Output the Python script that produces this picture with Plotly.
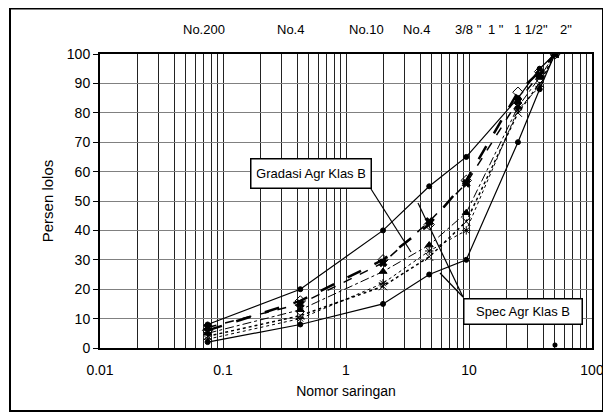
import math
import plotly.graph_objects as go

# ---- data ----
sieve_mm = [0.075, 0.425, 2.0, 4.75, 9.5, 25, 37.5, 50]
spec_upper = [8, 20, 40, 55, 65, 85, 95, 100]
spec_lower = [2, 8, 15, 25, 30, 70, 88, 100]
grad_1 = [6, 16, 30, 42, 57, 87, 94, 100]
grad_2 = [7, 15, 29, 43, 56, 84, 93, 100]
grad_3 = [5, 13, 26, 35, 46, 82, 92, 100]
grad_4 = [4, 11, 21, 31, 43, 80, 90, 100]
grad_5 = [3, 10, 22, 33, 40, 81, 89, 100]
stray_x = [50]
stray_y = [1]

top_labels = ["No.200", "No.4", "No.10", "No.4", "3/8 \"", "1 \"", "1 1/2\"", "2\""]
top_label_px = [204, 290, 366, 416, 468, 496, 531, 566]

y_ticks = list(range(0, 101, 10))
decades = [0.01, 0.1, 1, 10, 100]
decade_labels = ["0.01", "0.1", "1", "10", "100"]

# ---- geometry (page pixels; page body has an 8px margin) ----
W, H = 611, 414
OFF = 8
L, R, T, B = 100, 592, 54, 348

def px(xp):
    return (xp - L) / (R - L)

def py(yp):
    return (B - yp) / (B - T)

FONT = "Liberation Sans, Arial, sans-serif"

fig = go.Figure()

def add(y, dash, width, symbol, size):
    fig.add_trace(go.Scatter(
        x=sieve_mm, y=y, mode="lines+markers",
        line=dict(color="black", width=width, dash=dash),
        marker=dict(symbol=symbol, size=size, color="black",
                    line=dict(color="black", width=1)),
        showlegend=False, hoverinfo="skip"))

add(spec_upper, "solid", 1.2, "circle", 5)
add(spec_lower, "solid", 1.2, "circle", 5)
add(grad_1, "longdash", 2.5, "diamond-open", 8)
add(grad_2, "dash", 1.5, "x", 7)
add(grad_3, "dashdot", 1, "triangle-up", 7)
add(grad_4, "dot", 1.5, "x-thin", 8)
add(grad_5, "3px,3px", 1, "asterisk", 7)

fig.add_trace(go.Scatter(x=stray_x, y=stray_y, mode="markers",
                         marker=dict(symbol="circle", size=5, color="black"),
                         showlegend=False, hoverinfo="skip"))

# x tick values: every minor log position
tickvals = []
ticktext = []
for d in [0.01, 0.1, 1, 10]:
    for k in range(1, 10):
        v = round(d * k, 6)
        tickvals.append(v)
        ticktext.append(decade_labels[decades.index(d)] if k == 1 else "")
tickvals.append(100)
ticktext.append("100")

fig.update_xaxes(
    type="log", range=[-2, 2], tickvals=tickvals, ticktext=ticktext,
    showgrid=True, gridcolor="#222222", gridwidth=1,
    showline=True, linecolor="black", linewidth=2, mirror=True,
    ticks="", ticklabelstandoff=8,
    tickfont=dict(family=FONT, size=14, color="black"),
    title=dict(text="Nomor saringan", font=dict(family=FONT, size=14, color="black"),
               standoff=9),
    zeroline=False,
)
fig.update_yaxes(
    range=[0, 100], tickvals=y_ticks,
    showgrid=True, gridcolor="#808080", gridwidth=1,
    showline=True, linecolor="black", linewidth=2, mirror=True,
    ticks="outside", ticklen=5, tickcolor="black",
    tickfont=dict(family=FONT, size=14, color="black"),
    title=dict(text="Persen lolos", font=dict(family=FONT, size=15, color="black"),
               standoff=10),
    zeroline=False,
)

annotations = []
for t, xp in zip(top_labels, top_label_px):
    annotations.append(dict(text=t, x=px(xp), y=py(30), xref="paper", yref="paper",
                            showarrow=False, xanchor="center", yanchor="middle",
                            font=dict(family=FONT, size=13, color="black")))

annotations.append(dict(text="Gradasi Agr Klas B", x=px(310.5), y=py(173),
                        xref="paper", yref="paper", showarrow=False,
                        xanchor="center", yanchor="middle",
                        width=109, height=18, borderpad=5,
                        bordercolor="black", borderwidth=1.5, bgcolor="white",
                        font=dict(family=FONT, size=13, color="black")))
annotations.append(dict(text="Spec Agr Klas B", x=px(522.5), y=py(311.5),
                        xref="paper", yref="paper", showarrow=False,
                        xanchor="center", yanchor="middle",
                        width=109, height=16, borderpad=4,
                        bordercolor="black", borderwidth=1.5, bgcolor="white",
                        font=dict(family=FONT, size=13, color="black")))

shapes = [
    # outer frame
    dict(type="rect", xref="paper", yref="paper",
         x0=px(10), x1=px(603), y0=py(8.5), y1=py(411),
         line=dict(color="black", width=2), layer="above"),
    # callout lines
    dict(type="line", xref="paper", yref="paper",
         x0=px(371), y0=py(189), x1=px(411), y1=py(252),
         line=dict(color="black", width=1.2), layer="above"),
    dict(type="line", xref="paper", yref="paper",
         x0=px(463), y0=py(297), x1=px(418), y1=py(203),
         line=dict(color="black", width=1.2), layer="above"),
    dict(type="line", xref="paper", yref="paper",
         x0=px(463), y0=py(297), x1=px(440), y1=py(273),
         line=dict(color="black", width=1.2), layer="above"),
]

fig.update_layout(
    width=W, height=H,
    margin=dict(l=L - OFF, r=W - (R - OFF), t=T - OFF, b=H - (B - OFF)),
    paper_bgcolor="white", plot_bgcolor="white",
    annotations=annotations, shapes=shapes,
    showlegend=False,
    font=dict(family=FONT, size=12, color="black"),
)

fig.write_html("out.html")
